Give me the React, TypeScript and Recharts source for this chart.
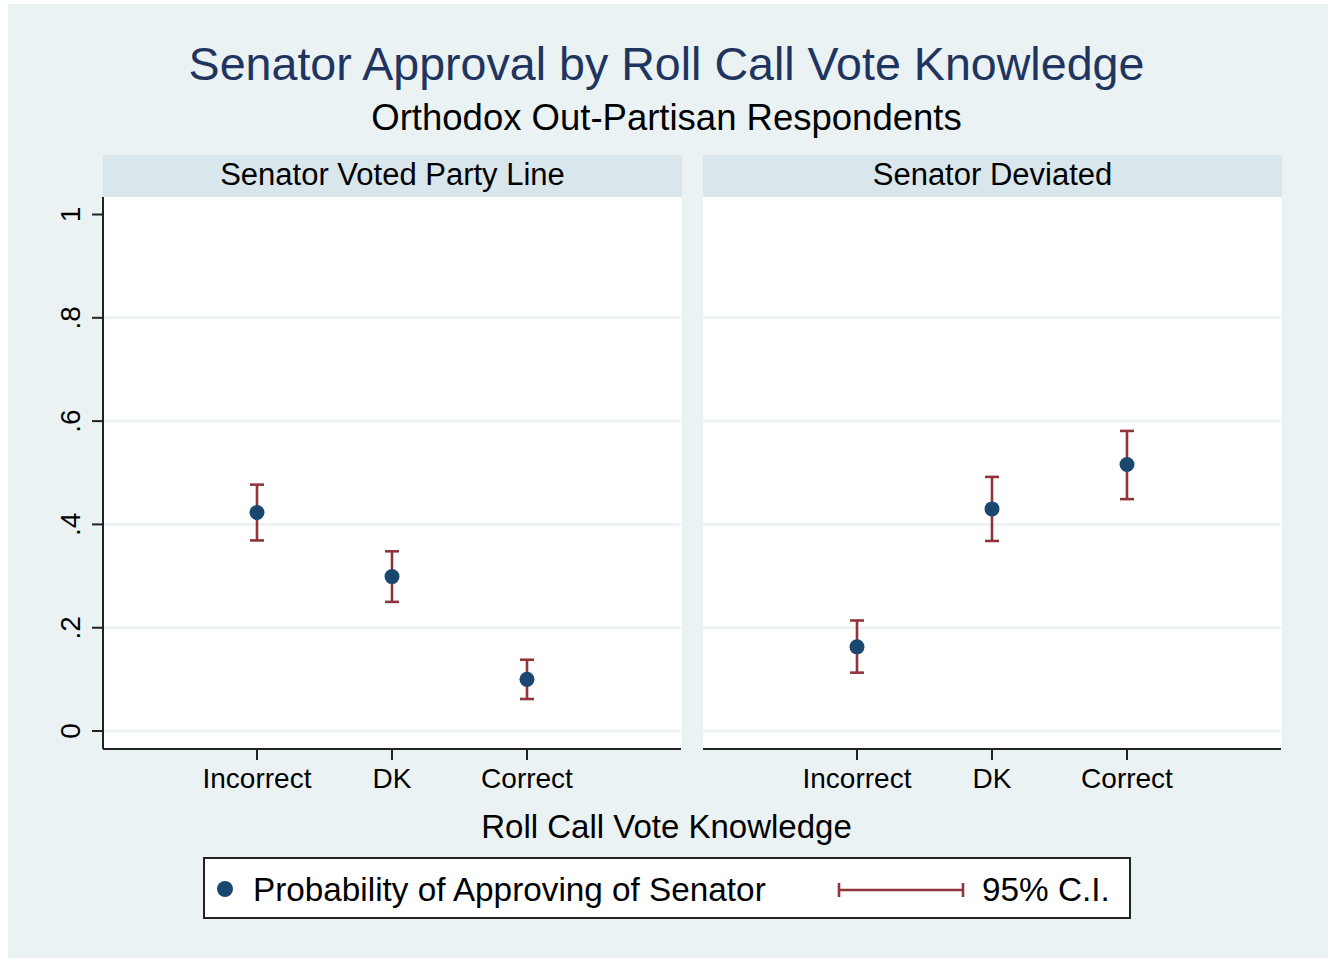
import React from 'react';
import {
  ScatterChart,
  Scatter,
  XAxis,
  YAxis,
  ErrorBar,
  ReferenceLine,
} from 'recharts';

const categories = ['Incorrect', 'DK', 'Correct'];
const xPositions = [1, 2, 3];

// estimates
const partyLineProb = [0.423, 0.299, 0.1];
const partyLineLow = [0.369, 0.25, 0.062];
const partyLineHigh = [0.477, 0.348, 0.138];

const deviatedProb = [0.163, 0.43, 0.516];
const deviatedLow = [0.113, 0.368, 0.449];
const deviatedHigh = [0.214, 0.492, 0.581];

const yTicks = [0, 0.2, 0.4, 0.6, 0.8, 1];
const gridValues = [0, 0.2, 0.4, 0.6, 0.8];

const FONT = '"Liberation Sans", Arial, Helvetica, sans-serif';
const NAVY = '#1a476f';
const MAROON = '#90353b';
const BG = '#eaf2f3';
const STRIP = '#d9e6eb';

function buildRows(prob: number[], low: number[], high: number[]) {
  return xPositions.map((x, i) => ({
    x,
    name: categories[i],
    p: prob[i],
    ci: [prob[i] - low[i], high[i] - prob[i]],
  }));
}

const partyLineRows = buildRows(partyLineProb, partyLineLow, partyLineHigh);
const deviatedRows = buildRows(deviatedProb, deviatedLow, deviatedHigh);

const fmtY = (v: number) => (v === 0 ? '0' : v === 1 ? '1' : String(v).replace(/^0/, ''));

const YTick = (props: any) => {
  const { x, y, payload } = props;
  return (
    <text
      x={x}
      y={y}
      transform={`rotate(-90, ${x}, ${y})`}
      textAnchor="middle"
      fontSize={28}
      fontFamily={FONT}
      fill="#000"
    >
      {fmtY(payload.value)}
    </text>
  );
};

const XTick = (props: any) => {
  const { x, y, payload } = props;
  return (
    <text x={x} y={y} dy={26} textAnchor="middle" fontSize={28} fontFamily={FONT} fill="#000">
      {categories[payload.value - 1]}
    </text>
  );
};

const Dot = (props: any) => {
  const { cx, cy } = props;
  return <circle cx={cx} cy={cy} r={7.5} fill={NAVY} />;
};

const Empty = () => <g />;

function Panel({ rows, showY }: { rows: any[]; showY: boolean }) {
  const yWidth = showY ? 63 : 0;
  return (
    <ScatterChart
      width={578 + yWidth}
      height={602}
      margin={{ top: 0, right: 0, bottom: 0, left: 0 }}
    >
      <XAxis
        type="number"
        dataKey="x"
        domain={[-0.1407, 4.1407]}
        ticks={xPositions}
        tick={<XTick />}
        tickSize={11}
        height={50}
        stroke="#222"
        strokeWidth={2}
        allowDataOverflow
      />
      <YAxis
        type="number"
        dataKey="p"
        domain={[-0.0348, 1.0339]}
        ticks={yTicks}
        tick={<YTick />}
        tickSize={11}
        tickMargin={12}
        width={yWidth}
        hide={!showY}
        stroke="#222"
        strokeWidth={2}
        allowDataOverflow
      />
      {gridValues.map((v) => (
        <ReferenceLine key={v} y={v} stroke={BG} strokeWidth={2.5} />
      ))}
      <Scatter data={rows} dataKey="p" shape={<Dot />} isAnimationActive={false} />
      <Scatter data={rows} dataKey="p" shape={<Empty />} isAnimationActive={false}>
        <ErrorBar dataKey="ci" direction="y" width={7} stroke={MAROON} strokeWidth={2.6} />
      </Scatter>
    </ScatterChart>
  );
}

export default function App() {
  return (
    <div style={{ position: 'relative', width: 1333, height: 961, background: '#fff', fontFamily: FONT }}>
      <style>{'body{margin:0}'}</style>
      <div style={{ position: 'absolute', left: 8, top: 4, width: 1320, height: 954, background: BG }} />
      <div
        style={{
          position: 'absolute', left: 0, width: 1333, top: 36, textAlign: 'center',
          fontSize: 46.6, color: '#1f3560', lineHeight: '56px',
        }}
      >
        Senator Approval by Roll Call Vote Knowledge
      </div>
      <div
        style={{
          position: 'absolute', left: 0, width: 1333, top: 97, textAlign: 'center',
          fontSize: 36.5, color: '#000', lineHeight: '42px',
        }}
      >
        Orthodox Out-Partisan Respondents
      </div>

      {[
        { left: 103, label: 'Senator Voted Party Line' },
        { left: 703, label: 'Senator Deviated' },
      ].map((s) => (
        <div key={s.label}>
          <div
            style={{
              position: 'absolute', left: s.left, top: 155, width: 579, height: 42,
              background: STRIP, textAlign: 'center', fontSize: 31, lineHeight: '40px', color: '#000',
            }}
          >
            {s.label}
          </div>
          <div style={{ position: 'absolute', left: s.left, top: 197, width: 579, height: 552, background: '#fff' }} />
        </div>
      ))}

      <div style={{ position: 'absolute', left: 40, top: 197 }}>
        <Panel rows={partyLineRows} showY />
      </div>
      <div style={{ position: 'absolute', left: 703, top: 197 }}>
        <Panel rows={deviatedRows} showY={false} />
      </div>

      <div
        style={{
          position: 'absolute', left: 0, width: 1333, top: 807, textAlign: 'center',
          fontSize: 33, color: '#000', lineHeight: '40px',
        }}
      >
        Roll Call Vote Knowledge
      </div>

      <div
        style={{
          position: 'absolute', left: 203, top: 857, width: 924, height: 58,
          background: '#fff', border: '2px solid #222',
        }}
      >
        <svg width={924} height={58} style={{ position: 'absolute', left: 0, top: 0 }}>
          <circle cx={20} cy={30} r={8} fill={NAVY} />
          <text x={48} y={42} fontSize={33.3} fontFamily={FONT} fill="#000">
            Probability of Approving of Senator
          </text>
          <line x1={633} x2={759} y1={31} y2={31} stroke={MAROON} strokeWidth={2.6} />
          <line x1={634} x2={634} y1={24} y2={38} stroke={MAROON} strokeWidth={2.6} />
          <line x1={758} x2={758} y1={24} y2={38} stroke={MAROON} strokeWidth={2.6} />
          <text x={777} y={42} fontSize={33.3} fontFamily={FONT} fill="#000">
            95% C.I.
          </text>
        </svg>
      </div>
    </div>
  );
}
